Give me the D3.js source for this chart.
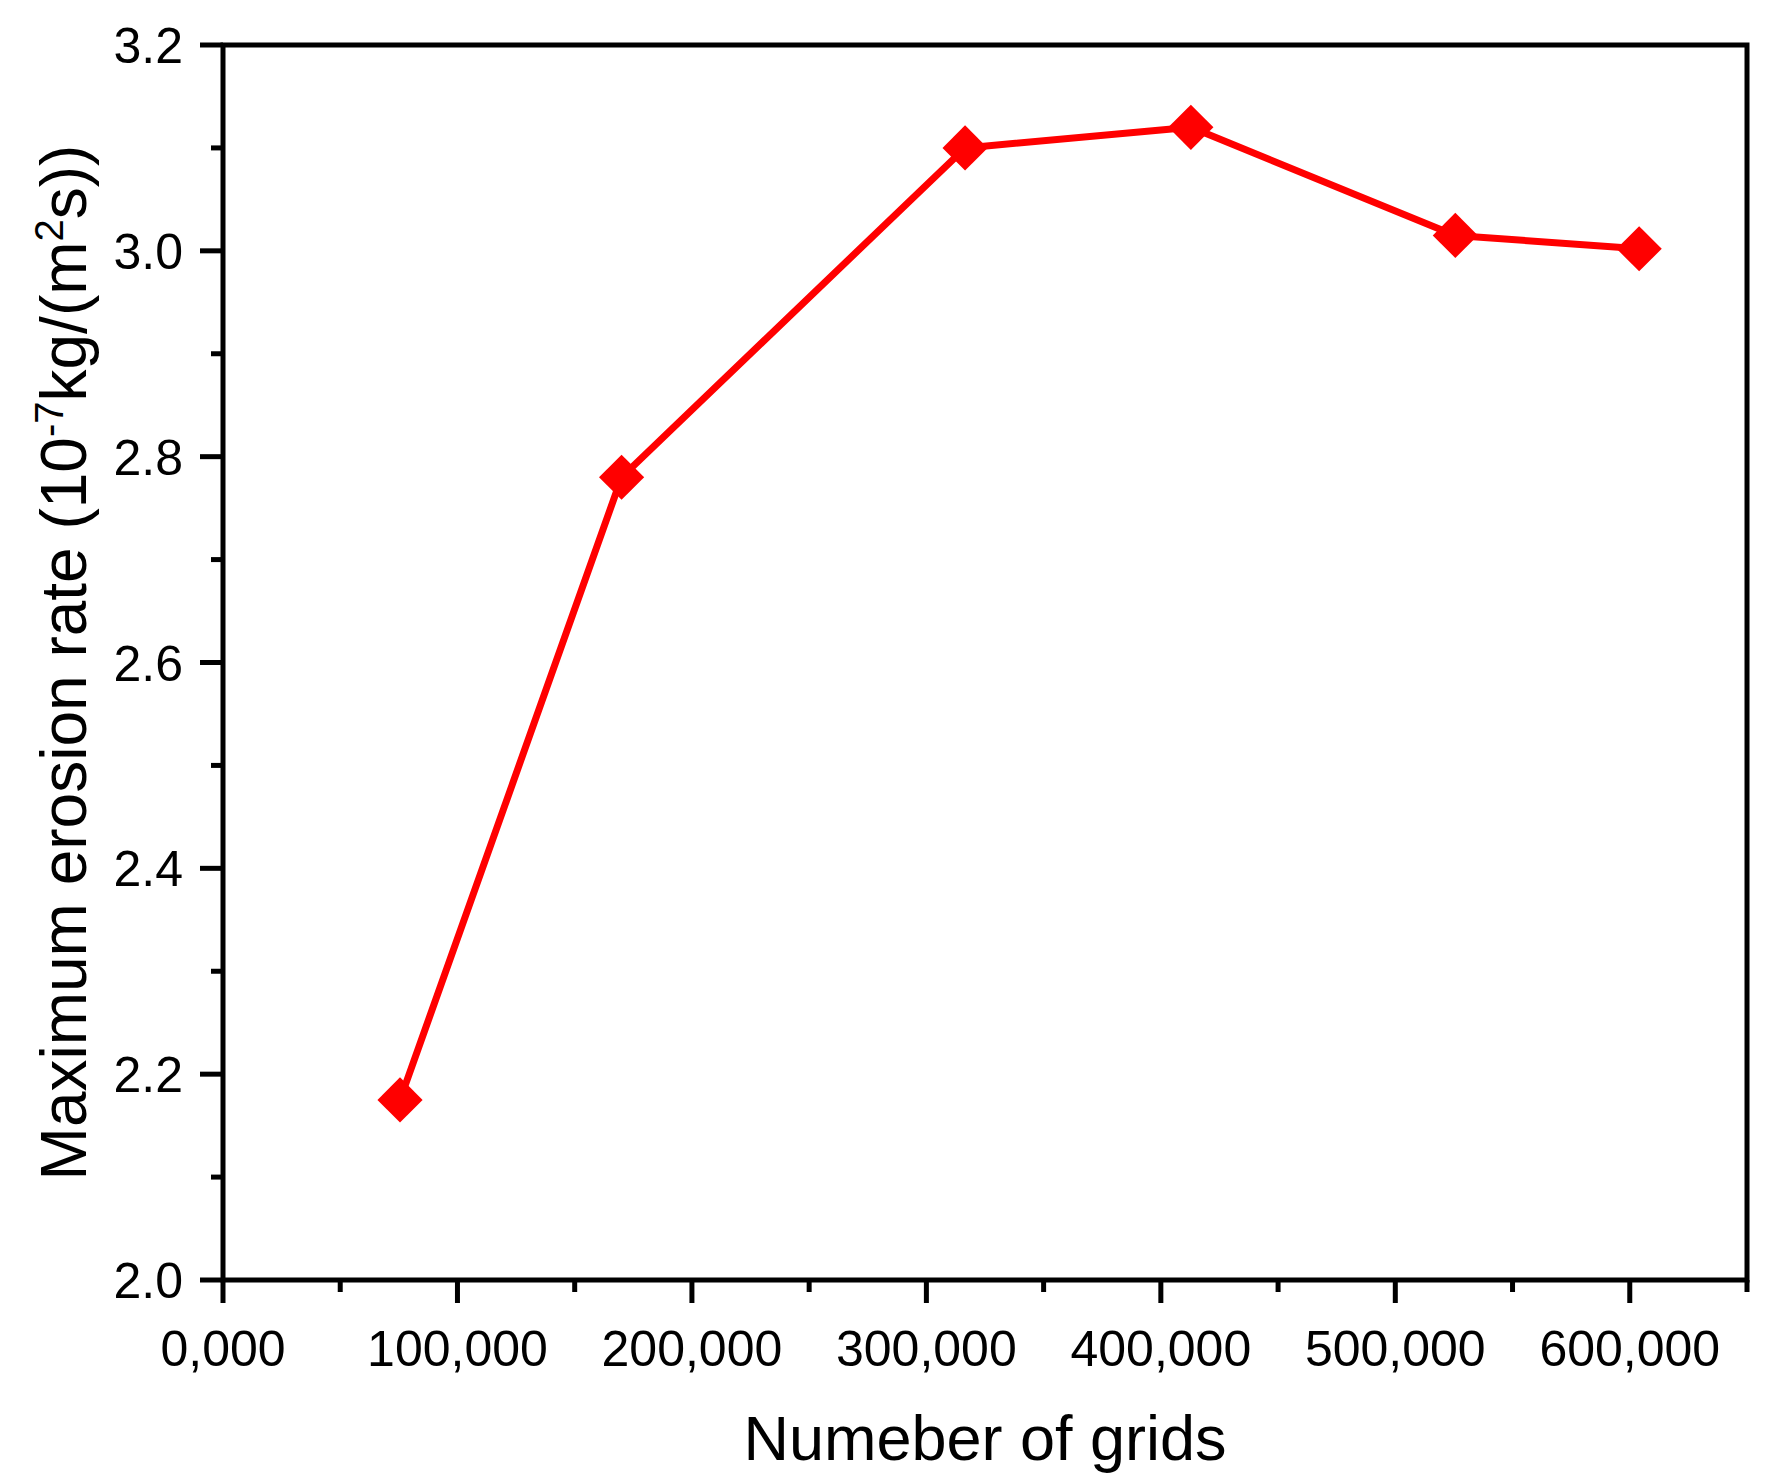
<!DOCTYPE html>
<html><head><meta charset="utf-8">
<script src="https://cdn.jsdelivr.net/npm/d3@7"></script>
<style>body{margin:0;background:#fff}</style>
</head><body>
<svg id="chart" width="1776" height="1484"></svg>
<script>
// Data
const grids = [75500, 170000, 316500, 412800, 525600, 604000];
const erosion = [2.175, 2.78, 3.10, 3.12, 3.015, 3.002];
const xTicks = [0, 100000, 200000, 300000, 400000, 500000, 600000];
const xTickLabels = ["0,000", "100,000", "200,000", "300,000", "400,000", "500,000", "600,000"];
const yTicks = [2.0, 2.2, 2.4, 2.6, 2.8, 3.0, 3.2];

const M = { left: 223, right: 1747, top: 45, bottom: 1280 };
const svg = d3.select("#chart");
const font = "Arial, 'Liberation Sans', sans-serif";

const x = d3.scaleLinear().domain([0, 650000]).range([M.left, M.right]);
const y = d3.scaleLinear().domain([2.0, 3.2]).range([M.bottom, M.top]);

// Frame
svg.append("rect").attr("x", M.left).attr("y", M.top)
  .attr("width", M.right - M.left).attr("height", M.bottom - M.top)
  .attr("fill", "none").attr("stroke", "#000").attr("stroke-width", 5);

// X ticks
const xMinor = d3.range(50000, 650001, 100000);
svg.selectAll(".xmaj").data(xTicks.concat([650000])).enter().append("line")
  .attr("x1", d => x(d)).attr("x2", d => x(d))
  .attr("y1", M.bottom).attr("y2", d => M.bottom + (d === 650000 ? 0 : 23))
  .attr("stroke", "#000").attr("stroke-width", 5);
svg.selectAll(".xmin").data(xMinor).enter().append("line")
  .attr("x1", d => x(d)).attr("x2", d => x(d))
  .attr("y1", M.bottom).attr("y2", M.bottom + 12)
  .attr("stroke", "#000").attr("stroke-width", 5);
svg.selectAll(".xlab").data(xTicks).enter().append("text")
  .attr("x", d => x(d)).attr("y", M.bottom + 86)
  .attr("text-anchor", "middle").attr("font-family", font).attr("font-size", 50)
  .text((d, i) => xTickLabels[i]);

// Y ticks
const yMinor = d3.range(2.1, 3.2, 0.2);
svg.selectAll(".ymaj").data(yTicks).enter().append("line")
  .attr("y1", d => y(d)).attr("y2", d => y(d))
  .attr("x1", M.left).attr("x2", M.left - 23)
  .attr("stroke", "#000").attr("stroke-width", 5);
svg.selectAll(".ymin").data(yMinor).enter().append("line")
  .attr("y1", d => y(d)).attr("y2", d => y(d))
  .attr("x1", M.left).attr("x2", M.left - 12)
  .attr("stroke", "#000").attr("stroke-width", 5);
svg.selectAll(".ylab").data(yTicks).enter().append("text")
  .attr("x", 183).attr("y", d => y(d) + 18)
  .attr("text-anchor", "end").attr("font-family", font).attr("font-size", 50)
  .text(d => d.toFixed(1));

// Axis titles
svg.append("text").attr("x", (M.left + M.right) / 2).attr("y", 1460)
  .attr("text-anchor", "middle").attr("font-family", font).attr("font-size", 63)
  .text("Numeber of grids");
const yt = svg.append("text")
  .attr("transform", `translate(86,${(M.top + M.bottom) / 2}) rotate(-90)`)
  .attr("text-anchor", "middle").attr("font-family", font).attr("font-size", 64);
yt.append("tspan").text("Maximum erosion rate (10");
yt.append("tspan").attr("dy", -23).attr("font-size", 40).text("-7");
yt.append("tspan").attr("dy", 23).text("kg/(m");
yt.append("tspan").attr("dy", -23).attr("font-size", 40).text("2");
yt.append("tspan").attr("dy", 23).text("s))");

// Line and markers
const pts = grids.map((g, i) => [g, erosion[i]]);
svg.append("path").datum(pts)
  .attr("d", d3.line().x(d => x(d[0])).y(d => y(d[1])))
  .attr("fill", "none").attr("stroke", "#ff0000").attr("stroke-width", 7)
  .attr("stroke-linejoin", "round");
svg.selectAll(".mk").data(pts).enter().append("path")
  .attr("d", d3.symbol(d3.symbolDiamond2, 1300))
  .attr("transform", d => `translate(${x(d[0])},${y(d[1])})`)
  .attr("fill", "#ff0000");
</script>
</body></html>
